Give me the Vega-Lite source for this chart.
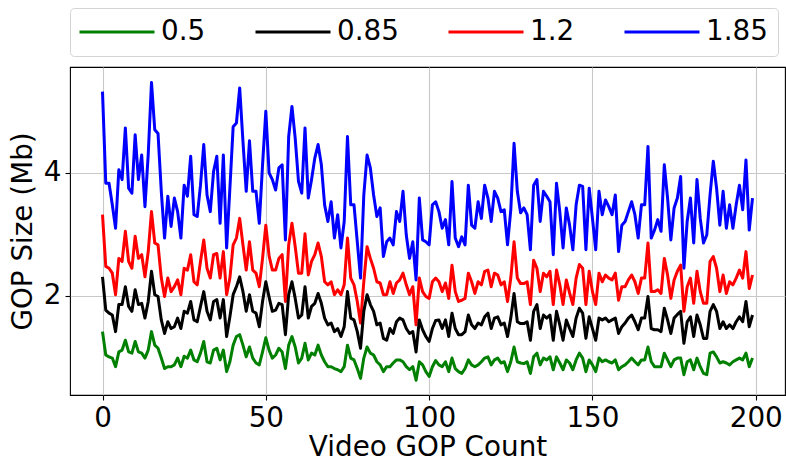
{
"$schema":"https://vega.github.io/schema/vega-lite/v6.json",
"width":715,"height":328,
"autosize":{"type":"none"},
"padding":{"left":70,"top":67,"right":1,"bottom":71},
"config":{"font":"DejaVu Sans","view":{"stroke":"black","strokeWidth":1.1}},
"data":{"values":[
{"s":"1.85","x":0,"y":5.32},{"s":"1.85","x":1,"y":3.83},{"s":"1.85","x":2,"y":3.83},{"s":"1.85","x":3,"y":3.48},{"s":"1.85","x":4,"y":3.10},{"s":"1.85","x":5,"y":4.05},{"s":"1.85","x":6,"y":3.89},{"s":"1.85","x":7,"y":4.73},{"s":"1.85","x":8,"y":3.75},{"s":"1.85","x":9,"y":3.67},
{"s":"1.85","x":10,"y":4.62},{"s":"1.85","x":11,"y":3.89},{"s":"1.85","x":12,"y":4.29},{"s":"1.85","x":13,"y":3.45},{"s":"1.85","x":14,"y":4.30},{"s":"1.85","x":15,"y":5.47},{"s":"1.85","x":16,"y":4.70},{"s":"1.85","x":17,"y":4.64},{"s":"1.85","x":18,"y":3.70},{"s":"1.85","x":19,"y":2.94},
{"s":"1.85","x":20,"y":3.62},{"s":"1.85","x":21,"y":3.13},{"s":"1.85","x":22,"y":3.59},{"s":"1.85","x":23,"y":3.37},{"s":"1.85","x":24,"y":2.94},{"s":"1.85","x":25,"y":3.80},{"s":"1.85","x":26,"y":3.62},{"s":"1.85","x":27,"y":4.27},{"s":"1.85","x":28,"y":3.32},{"s":"1.85","x":29,"y":3.29},
{"s":"1.85","x":30,"y":3.80},{"s":"1.85","x":31,"y":4.46},{"s":"1.85","x":32,"y":3.64},{"s":"1.85","x":33,"y":3.37},{"s":"1.85","x":34,"y":4.02},{"s":"1.85","x":35,"y":4.27},{"s":"1.85","x":36,"y":3.18},{"s":"1.85","x":37,"y":4.29},{"s":"1.85","x":38,"y":2.78},{"s":"1.85","x":39,"y":3.75},
{"s":"1.85","x":40,"y":4.75},{"s":"1.85","x":41,"y":4.81},{"s":"1.85","x":42,"y":5.38},{"s":"1.85","x":43,"y":4.51},{"s":"1.85","x":44,"y":3.70},{"s":"1.85","x":45,"y":4.52},{"s":"1.85","x":46,"y":3.70},{"s":"1.85","x":47,"y":3.70},{"s":"1.85","x":48,"y":3.18},{"s":"1.85","x":49,"y":4.13},
{"s":"1.85","x":50,"y":5.00},{"s":"1.85","x":51,"y":4.00},{"s":"1.85","x":52,"y":3.89},{"s":"1.85","x":53,"y":3.72},{"s":"1.85","x":54,"y":4.08},{"s":"1.85","x":55,"y":4.13},{"s":"1.85","x":56,"y":2.91},{"s":"1.85","x":57,"y":4.59},{"s":"1.85","x":58,"y":5.08},{"s":"1.85","x":59,"y":4.56},
{"s":"1.85","x":60,"y":3.86},{"s":"1.85","x":61,"y":3.67},{"s":"1.85","x":62,"y":4.73},{"s":"1.85","x":63,"y":3.59},{"s":"1.85","x":64,"y":3.89},{"s":"1.85","x":65,"y":4.24},{"s":"1.85","x":66,"y":4.46},{"s":"1.85","x":67,"y":4.13},{"s":"1.85","x":68,"y":3.48},{"s":"1.85","x":69,"y":3.21},
{"s":"1.85","x":70,"y":3.53},{"s":"1.85","x":71,"y":2.94},{"s":"1.85","x":72,"y":3.32},{"s":"1.85","x":73,"y":2.78},{"s":"1.85","x":74,"y":3.21},{"s":"1.85","x":75,"y":4.59},{"s":"1.85","x":76,"y":3.48},{"s":"1.85","x":77,"y":3.48},{"s":"1.85","x":78,"y":2.88},{"s":"1.85","x":79,"y":2.29},
{"s":"1.85","x":80,"y":3.64},{"s":"1.85","x":81,"y":4.29},{"s":"1.85","x":82,"y":4.08},{"s":"1.85","x":83,"y":3.64},{"s":"1.85","x":84,"y":3.29},{"s":"1.85","x":85,"y":3.43},{"s":"1.85","x":86,"y":2.64},{"s":"1.85","x":87,"y":2.88},{"s":"1.85","x":88,"y":2.94},{"s":"1.85","x":89,"y":2.83},
{"s":"1.85","x":90,"y":3.37},{"s":"1.85","x":91,"y":3.21},{"s":"1.85","x":92,"y":3.70},{"s":"1.85","x":93,"y":2.99},{"s":"1.85","x":94,"y":2.61},{"s":"1.85","x":95,"y":2.88},{"s":"1.85","x":96,"y":2.26},{"s":"1.85","x":97,"y":3.59},{"s":"1.85","x":98,"y":2.91},{"s":"1.85","x":99,"y":2.88},
{"s":"1.85","x":100,"y":2.83},{"s":"1.85","x":101,"y":3.48},{"s":"1.85","x":102,"y":3.53},{"s":"1.85","x":103,"y":3.37},{"s":"1.85","x":104,"y":3.10},{"s":"1.85","x":105,"y":3.24},{"s":"1.85","x":106,"y":2.83},{"s":"1.85","x":107,"y":3.86},{"s":"1.85","x":108,"y":2.94},{"s":"1.85","x":109,"y":2.80},
{"s":"1.85","x":110,"y":2.96},{"s":"1.85","x":111,"y":2.83},{"s":"1.85","x":112,"y":3.80},{"s":"1.85","x":113,"y":3.15},{"s":"1.85","x":114,"y":3.10},{"s":"1.85","x":115,"y":3.53},{"s":"1.85","x":116,"y":3.26},{"s":"1.85","x":117,"y":3.80},{"s":"1.85","x":118,"y":3.59},{"s":"1.85","x":119,"y":3.21},
{"s":"1.85","x":120,"y":3.70},{"s":"1.85","x":121,"y":3.59},{"s":"1.85","x":122,"y":3.37},{"s":"1.85","x":123,"y":3.40},{"s":"1.85","x":124,"y":2.83},{"s":"1.85","x":125,"y":3.40},{"s":"1.85","x":126,"y":4.48},{"s":"1.85","x":127,"y":3.70},{"s":"1.85","x":128,"y":3.35},{"s":"1.85","x":129,"y":3.43},
{"s":"1.85","x":130,"y":3.32},{"s":"1.85","x":131,"y":2.75},{"s":"1.85","x":132,"y":3.80},{"s":"1.85","x":133,"y":3.89},{"s":"1.85","x":134,"y":3.21},{"s":"1.85","x":135,"y":3.70},{"s":"1.85","x":136,"y":3.62},{"s":"1.85","x":137,"y":3.53},{"s":"1.85","x":138,"y":2.67},{"s":"1.85","x":139,"y":3.83},
{"s":"1.85","x":140,"y":3.37},{"s":"1.85","x":141,"y":2.78},{"s":"1.85","x":142,"y":3.43},{"s":"1.85","x":143,"y":3.15},{"s":"1.85","x":144,"y":2.75},{"s":"1.85","x":145,"y":3.48},{"s":"1.85","x":146,"y":3.80},{"s":"1.85","x":147,"y":3.78},{"s":"1.85","x":148,"y":2.75},{"s":"1.85","x":149,"y":3.75},
{"s":"1.85","x":150,"y":3.26},{"s":"1.85","x":151,"y":2.75},{"s":"1.85","x":152,"y":3.70},{"s":"1.85","x":153,"y":3.32},{"s":"1.85","x":154,"y":3.56},{"s":"1.85","x":155,"y":3.45},{"s":"1.85","x":156,"y":3.32},{"s":"1.85","x":157,"y":3.64},{"s":"1.85","x":158,"y":2.72},{"s":"1.85","x":159,"y":3.15},
{"s":"1.85","x":160,"y":3.21},{"s":"1.85","x":161,"y":3.37},{"s":"1.85","x":162,"y":3.53},{"s":"1.85","x":163,"y":3.32},{"s":"1.85","x":164,"y":2.94},{"s":"1.85","x":165,"y":3.48},{"s":"1.85","x":166,"y":3.48},{"s":"1.85","x":167,"y":4.43},{"s":"1.85","x":168,"y":2.94},{"s":"1.85","x":169,"y":3.07},
{"s":"1.85","x":170,"y":3.24},{"s":"1.85","x":171,"y":3.05},{"s":"1.85","x":172,"y":4.13},{"s":"1.85","x":173,"y":3.59},{"s":"1.85","x":174,"y":2.91},{"s":"1.85","x":175,"y":3.43},{"s":"1.85","x":176,"y":3.59},{"s":"1.85","x":177,"y":3.94},{"s":"1.85","x":178,"y":2.45},{"s":"1.85","x":179,"y":3.21},
{"s":"1.85","x":180,"y":3.59},{"s":"1.85","x":181,"y":2.86},{"s":"1.85","x":182,"y":3.89},{"s":"1.85","x":183,"y":3.26},{"s":"1.85","x":184,"y":2.86},{"s":"1.85","x":185,"y":2.99},{"s":"1.85","x":186,"y":3.64},{"s":"1.85","x":187,"y":4.19},{"s":"1.85","x":188,"y":3.75},{"s":"1.85","x":189,"y":3.15},
{"s":"1.85","x":190,"y":3.70},{"s":"1.85","x":191,"y":3.10},{"s":"1.85","x":192,"y":3.48},{"s":"1.85","x":193,"y":3.10},{"s":"1.85","x":194,"y":3.48},{"s":"1.85","x":195,"y":3.80},{"s":"1.85","x":196,"y":3.40},{"s":"1.85","x":197,"y":4.21},{"s":"1.85","x":198,"y":3.07},{"s":"1.85","x":199,"y":3.59},
{"s":"1.2","x":0,"y":3.32},{"s":"1.2","x":1,"y":2.48},{"s":"1.2","x":2,"y":2.45},{"s":"1.2","x":3,"y":2.37},{"s":"1.2","x":4,"y":2.02},{"s":"1.2","x":5,"y":2.61},{"s":"1.2","x":6,"y":2.56},{"s":"1.2","x":7,"y":3.05},{"s":"1.2","x":8,"y":2.56},{"s":"1.2","x":9,"y":2.45},
{"s":"1.2","x":10,"y":2.97},{"s":"1.2","x":11,"y":2.61},{"s":"1.2","x":12,"y":2.67},{"s":"1.2","x":13,"y":2.31},{"s":"1.2","x":14,"y":2.72},{"s":"1.2","x":15,"y":3.37},{"s":"1.2","x":16,"y":2.86},{"s":"1.2","x":17,"y":2.83},{"s":"1.2","x":18,"y":2.29},{"s":"1.2","x":19,"y":1.99},
{"s":"1.2","x":20,"y":2.29},{"s":"1.2","x":21,"y":2.07},{"s":"1.2","x":22,"y":2.15},{"s":"1.2","x":23,"y":2.26},{"s":"1.2","x":24,"y":2.02},{"s":"1.2","x":25,"y":2.45},{"s":"1.2","x":26,"y":2.42},{"s":"1.2","x":27,"y":2.67},{"s":"1.2","x":28,"y":2.23},{"s":"1.2","x":29,"y":2.18},
{"s":"1.2","x":30,"y":2.56},{"s":"1.2","x":31,"y":2.91},{"s":"1.2","x":32,"y":2.45},{"s":"1.2","x":33,"y":2.29},{"s":"1.2","x":34,"y":2.67},{"s":"1.2","x":35,"y":2.69},{"s":"1.2","x":36,"y":2.29},{"s":"1.2","x":37,"y":2.72},{"s":"1.2","x":38,"y":2.02},{"s":"1.2","x":39,"y":2.29},
{"s":"1.2","x":40,"y":2.83},{"s":"1.2","x":41,"y":2.94},{"s":"1.2","x":42,"y":3.26},{"s":"1.2","x":43,"y":2.83},{"s":"1.2","x":44,"y":2.42},{"s":"1.2","x":45,"y":2.88},{"s":"1.2","x":46,"y":2.42},{"s":"1.2","x":47,"y":2.37},{"s":"1.2","x":48,"y":2.15},{"s":"1.2","x":49,"y":2.61},
{"s":"1.2","x":50,"y":3.15},{"s":"1.2","x":51,"y":2.65},{"s":"1.2","x":52,"y":2.42},{"s":"1.2","x":53,"y":2.42},{"s":"1.2","x":54,"y":2.61},{"s":"1.2","x":55,"y":2.67},{"s":"1.2","x":56,"y":1.91},{"s":"1.2","x":57,"y":2.83},{"s":"1.2","x":58,"y":3.18},{"s":"1.2","x":59,"y":2.80},
{"s":"1.2","x":60,"y":2.37},{"s":"1.2","x":61,"y":2.37},{"s":"1.2","x":62,"y":3.01},{"s":"1.2","x":63,"y":2.34},{"s":"1.2","x":64,"y":2.56},{"s":"1.2","x":65,"y":2.67},{"s":"1.2","x":66,"y":2.86},{"s":"1.2","x":67,"y":2.64},{"s":"1.2","x":68,"y":2.23},{"s":"1.2","x":69,"y":2.18},
{"s":"1.2","x":70,"y":2.23},{"s":"1.2","x":71,"y":2.02},{"s":"1.2","x":72,"y":2.10},{"s":"1.2","x":73,"y":2.02},{"s":"1.2","x":74,"y":2.18},{"s":"1.2","x":75,"y":2.94},{"s":"1.2","x":76,"y":2.29},{"s":"1.2","x":77,"y":2.18},{"s":"1.2","x":78,"y":1.91},{"s":"1.2","x":79,"y":1.56},
{"s":"1.2","x":80,"y":2.23},{"s":"1.2","x":81,"y":2.80},{"s":"1.2","x":82,"y":2.61},{"s":"1.2","x":83,"y":2.45},{"s":"1.2","x":84,"y":2.23},{"s":"1.2","x":85,"y":2.21},{"s":"1.2","x":86,"y":2.02},{"s":"1.2","x":87,"y":2.02},{"s":"1.2","x":88,"y":2.23},{"s":"1.2","x":89,"y":2.04},
{"s":"1.2","x":90,"y":2.21},{"s":"1.2","x":91,"y":2.26},{"s":"1.2","x":92,"y":2.37},{"s":"1.2","x":93,"y":2.18},{"s":"1.2","x":94,"y":2.02},{"s":"1.2","x":95,"y":2.15},{"s":"1.2","x":96,"y":1.53},{"s":"1.2","x":97,"y":2.29},{"s":"1.2","x":98,"y":2.07},{"s":"1.2","x":99,"y":1.99},
{"s":"1.2","x":100,"y":1.96},{"s":"1.2","x":101,"y":2.23},{"s":"1.2","x":102,"y":2.29},{"s":"1.2","x":103,"y":2.23},{"s":"1.2","x":104,"y":2.07},{"s":"1.2","x":105,"y":2.21},{"s":"1.2","x":106,"y":1.96},{"s":"1.2","x":107,"y":2.50},{"s":"1.2","x":108,"y":2.07},{"s":"1.2","x":109,"y":1.91},
{"s":"1.2","x":110,"y":1.93},{"s":"1.2","x":111,"y":1.96},{"s":"1.2","x":112,"y":2.37},{"s":"1.2","x":113,"y":2.23},{"s":"1.2","x":114,"y":2.04},{"s":"1.2","x":115,"y":2.23},{"s":"1.2","x":116,"y":2.18},{"s":"1.2","x":117,"y":2.40},{"s":"1.2","x":118,"y":2.42},{"s":"1.2","x":119,"y":2.15},
{"s":"1.2","x":120,"y":2.37},{"s":"1.2","x":121,"y":2.34},{"s":"1.2","x":122,"y":2.18},{"s":"1.2","x":123,"y":2.23},{"s":"1.2","x":124,"y":1.91},{"s":"1.2","x":125,"y":2.29},{"s":"1.2","x":126,"y":2.88},{"s":"1.2","x":127,"y":2.29},{"s":"1.2","x":128,"y":2.20},{"s":"1.2","x":129,"y":2.20},
{"s":"1.2","x":130,"y":2.23},{"s":"1.2","x":131,"y":1.86},{"s":"1.2","x":132,"y":2.58},{"s":"1.2","x":133,"y":2.45},{"s":"1.2","x":134,"y":2.07},{"s":"1.2","x":135,"y":2.37},{"s":"1.2","x":136,"y":2.31},{"s":"1.2","x":137,"y":2.40},{"s":"1.2","x":138,"y":1.86},{"s":"1.2","x":139,"y":2.42},
{"s":"1.2","x":140,"y":2.18},{"s":"1.2","x":141,"y":1.86},{"s":"1.2","x":142,"y":2.26},{"s":"1.2","x":143,"y":2.05},{"s":"1.2","x":144,"y":1.86},{"s":"1.2","x":145,"y":2.29},{"s":"1.2","x":146,"y":2.51},{"s":"1.2","x":147,"y":2.45},{"s":"1.2","x":148,"y":1.86},{"s":"1.2","x":149,"y":2.40},
{"s":"1.2","x":150,"y":2.07},{"s":"1.2","x":151,"y":1.86},{"s":"1.2","x":152,"y":2.37},{"s":"1.2","x":153,"y":2.23},{"s":"1.2","x":154,"y":2.34},{"s":"1.2","x":155,"y":2.29},{"s":"1.2","x":156,"y":2.26},{"s":"1.2","x":157,"y":2.37},{"s":"1.2","x":158,"y":1.93},{"s":"1.2","x":159,"y":2.15},
{"s":"1.2","x":160,"y":2.15},{"s":"1.2","x":161,"y":2.26},{"s":"1.2","x":162,"y":2.34},{"s":"1.2","x":163,"y":2.23},{"s":"1.2","x":164,"y":2.04},{"s":"1.2","x":165,"y":2.29},{"s":"1.2","x":166,"y":2.29},{"s":"1.2","x":167,"y":2.86},{"s":"1.2","x":168,"y":2.07},{"s":"1.2","x":169,"y":2.07},
{"s":"1.2","x":170,"y":2.10},{"s":"1.2","x":171,"y":2.04},{"s":"1.2","x":172,"y":2.61},{"s":"1.2","x":173,"y":2.34},{"s":"1.2","x":174,"y":1.96},{"s":"1.2","x":175,"y":2.26},{"s":"1.2","x":176,"y":2.40},{"s":"1.2","x":177,"y":2.50},{"s":"1.2","x":178,"y":1.75},{"s":"1.2","x":179,"y":2.15},
{"s":"1.2","x":180,"y":2.29},{"s":"1.2","x":181,"y":1.88},{"s":"1.2","x":182,"y":2.40},{"s":"1.2","x":183,"y":2.07},{"s":"1.2","x":184,"y":1.88},{"s":"1.2","x":185,"y":1.88},{"s":"1.2","x":186,"y":2.56},{"s":"1.2","x":187,"y":2.64},{"s":"1.2","x":188,"y":2.45},{"s":"1.2","x":189,"y":2.07},
{"s":"1.2","x":190,"y":2.34},{"s":"1.2","x":191,"y":2.04},{"s":"1.2","x":192,"y":2.23},{"s":"1.2","x":193,"y":2.18},{"s":"1.2","x":194,"y":2.29},{"s":"1.2","x":195,"y":2.42},{"s":"1.2","x":196,"y":2.29},{"s":"1.2","x":197,"y":2.72},{"s":"1.2","x":198,"y":2.12},{"s":"1.2","x":199,"y":2.34},
{"s":"0.85","x":0,"y":2.31},{"s":"0.85","x":1,"y":1.77},{"s":"0.85","x":2,"y":1.72},{"s":"0.85","x":3,"y":1.69},{"s":"0.85","x":4,"y":1.42},{"s":"0.85","x":5,"y":1.86},{"s":"0.85","x":6,"y":1.86},{"s":"0.85","x":7,"y":2.15},{"s":"0.85","x":8,"y":1.83},{"s":"0.85","x":9,"y":1.75},
{"s":"0.85","x":10,"y":2.10},{"s":"0.85","x":11,"y":1.86},{"s":"0.85","x":12,"y":1.88},{"s":"0.85","x":13,"y":1.64},{"s":"0.85","x":14,"y":1.91},{"s":"0.85","x":15,"y":2.40},{"s":"0.85","x":16,"y":2.02},{"s":"0.85","x":17,"y":1.99},{"s":"0.85","x":18,"y":1.61},{"s":"0.85","x":19,"y":1.39},
{"s":"0.85","x":20,"y":1.58},{"s":"0.85","x":21,"y":1.47},{"s":"0.85","x":22,"y":1.50},{"s":"0.85","x":23,"y":1.64},{"s":"0.85","x":24,"y":1.47},{"s":"0.85","x":25,"y":1.75},{"s":"0.85","x":26,"y":1.72},{"s":"0.85","x":27,"y":1.91},{"s":"0.85","x":28,"y":1.61},{"s":"0.85","x":29,"y":1.58},
{"s":"0.85","x":30,"y":1.83},{"s":"0.85","x":31,"y":2.07},{"s":"0.85","x":32,"y":1.75},{"s":"0.85","x":33,"y":1.61},{"s":"0.85","x":34,"y":1.91},{"s":"0.85","x":35,"y":1.94},{"s":"0.85","x":36,"y":1.64},{"s":"0.85","x":37,"y":1.94},{"s":"0.85","x":38,"y":1.34},{"s":"0.85","x":39,"y":1.66},
{"s":"0.85","x":40,"y":2.02},{"s":"0.85","x":41,"y":2.15},{"s":"0.85","x":42,"y":2.31},{"s":"0.85","x":43,"y":2.07},{"s":"0.85","x":44,"y":1.75},{"s":"0.85","x":45,"y":2.02},{"s":"0.85","x":46,"y":1.75},{"s":"0.85","x":47,"y":1.72},{"s":"0.85","x":48,"y":1.50},{"s":"0.85","x":49,"y":1.91},
{"s":"0.85","x":50,"y":2.23},{"s":"0.85","x":51,"y":1.98},{"s":"0.85","x":52,"y":1.75},{"s":"0.85","x":53,"y":1.77},{"s":"0.85","x":54,"y":1.88},{"s":"0.85","x":55,"y":1.86},{"s":"0.85","x":56,"y":1.37},{"s":"0.85","x":57,"y":2.02},{"s":"0.85","x":58,"y":2.23},{"s":"0.85","x":59,"y":1.96},
{"s":"0.85","x":60,"y":1.64},{"s":"0.85","x":61,"y":1.69},{"s":"0.85","x":62,"y":2.15},{"s":"0.85","x":63,"y":1.64},{"s":"0.85","x":64,"y":1.83},{"s":"0.85","x":65,"y":1.88},{"s":"0.85","x":66,"y":2.04},{"s":"0.85","x":67,"y":1.88},{"s":"0.85","x":68,"y":1.64},{"s":"0.85","x":69,"y":1.53},
{"s":"0.85","x":70,"y":1.56},{"s":"0.85","x":71,"y":1.42},{"s":"0.85","x":72,"y":1.47},{"s":"0.85","x":73,"y":1.34},{"s":"0.85","x":74,"y":1.50},{"s":"0.85","x":75,"y":2.07},{"s":"0.85","x":76,"y":1.64},{"s":"0.85","x":77,"y":1.61},{"s":"0.85","x":78,"y":1.42},{"s":"0.85","x":79,"y":1.15},
{"s":"0.85","x":80,"y":1.75},{"s":"0.85","x":81,"y":2.02},{"s":"0.85","x":82,"y":1.86},{"s":"0.85","x":83,"y":1.75},{"s":"0.85","x":84,"y":1.53},{"s":"0.85","x":85,"y":1.56},{"s":"0.85","x":86,"y":1.31},{"s":"0.85","x":87,"y":1.28},{"s":"0.85","x":88,"y":1.47},{"s":"0.85","x":89,"y":1.39},
{"s":"0.85","x":90,"y":1.58},{"s":"0.85","x":91,"y":1.64},{"s":"0.85","x":92,"y":1.61},{"s":"0.85","x":93,"y":1.47},{"s":"0.85","x":94,"y":1.39},{"s":"0.85","x":95,"y":1.42},{"s":"0.85","x":96,"y":1.09},{"s":"0.85","x":97,"y":1.61},{"s":"0.85","x":98,"y":1.45},{"s":"0.85","x":99,"y":1.34},
{"s":"0.85","x":100,"y":1.26},{"s":"0.85","x":101,"y":1.47},{"s":"0.85","x":102,"y":1.60},{"s":"0.85","x":103,"y":1.61},{"s":"0.85","x":104,"y":1.47},{"s":"0.85","x":105,"y":1.61},{"s":"0.85","x":106,"y":1.34},{"s":"0.85","x":107,"y":1.72},{"s":"0.85","x":108,"y":1.47},{"s":"0.85","x":109,"y":1.37},
{"s":"0.85","x":110,"y":1.37},{"s":"0.85","x":111,"y":1.42},{"s":"0.85","x":112,"y":1.69},{"s":"0.85","x":113,"y":1.53},{"s":"0.85","x":114,"y":1.47},{"s":"0.85","x":115,"y":1.56},{"s":"0.85","x":116,"y":1.53},{"s":"0.85","x":117,"y":1.66},{"s":"0.85","x":118,"y":1.72},{"s":"0.85","x":119,"y":1.47},
{"s":"0.85","x":120,"y":1.64},{"s":"0.85","x":121,"y":1.66},{"s":"0.85","x":122,"y":1.53},{"s":"0.85","x":123,"y":1.56},{"s":"0.85","x":124,"y":1.34},{"s":"0.85","x":125,"y":1.64},{"s":"0.85","x":126,"y":2.04},{"s":"0.85","x":127,"y":1.58},{"s":"0.85","x":128,"y":1.55},{"s":"0.85","x":129,"y":1.55},
{"s":"0.85","x":130,"y":1.58},{"s":"0.85","x":131,"y":1.28},{"s":"0.85","x":132,"y":1.75},{"s":"0.85","x":133,"y":1.86},{"s":"0.85","x":134,"y":1.47},{"s":"0.85","x":135,"y":1.69},{"s":"0.85","x":136,"y":1.64},{"s":"0.85","x":137,"y":1.69},{"s":"0.85","x":138,"y":1.28},{"s":"0.85","x":139,"y":1.75},
{"s":"0.85","x":140,"y":1.53},{"s":"0.85","x":141,"y":1.28},{"s":"0.85","x":142,"y":1.61},{"s":"0.85","x":143,"y":1.47},{"s":"0.85","x":144,"y":1.34},{"s":"0.85","x":145,"y":1.64},{"s":"0.85","x":146,"y":1.80},{"s":"0.85","x":147,"y":1.72},{"s":"0.85","x":148,"y":1.31},{"s":"0.85","x":149,"y":1.66},
{"s":"0.85","x":150,"y":1.47},{"s":"0.85","x":151,"y":1.28},{"s":"0.85","x":152,"y":1.64},{"s":"0.85","x":153,"y":1.61},{"s":"0.85","x":154,"y":1.64},{"s":"0.85","x":155,"y":1.58},{"s":"0.85","x":156,"y":1.61},{"s":"0.85","x":157,"y":1.64},{"s":"0.85","x":158,"y":1.39},{"s":"0.85","x":159,"y":1.50},
{"s":"0.85","x":160,"y":1.56},{"s":"0.85","x":161,"y":1.64},{"s":"0.85","x":162,"y":1.69},{"s":"0.85","x":163,"y":1.58},{"s":"0.85","x":164,"y":1.45},{"s":"0.85","x":165,"y":1.64},{"s":"0.85","x":166,"y":1.64},{"s":"0.85","x":167,"y":1.99},{"s":"0.85","x":168,"y":1.47},{"s":"0.85","x":169,"y":1.45},
{"s":"0.85","x":170,"y":1.45},{"s":"0.85","x":171,"y":1.42},{"s":"0.85","x":172,"y":1.80},{"s":"0.85","x":173,"y":1.61},{"s":"0.85","x":174,"y":1.39},{"s":"0.85","x":175,"y":1.64},{"s":"0.85","x":176,"y":1.70},{"s":"0.85","x":177,"y":1.75},{"s":"0.85","x":178,"y":1.23},{"s":"0.85","x":179,"y":1.58},
{"s":"0.85","x":180,"y":1.66},{"s":"0.85","x":181,"y":1.34},{"s":"0.85","x":182,"y":1.69},{"s":"0.85","x":183,"y":1.53},{"s":"0.85","x":184,"y":1.31},{"s":"0.85","x":185,"y":1.31},{"s":"0.85","x":186,"y":1.75},{"s":"0.85","x":187,"y":1.86},{"s":"0.85","x":188,"y":1.75},{"s":"0.85","x":189,"y":1.47},
{"s":"0.85","x":190,"y":1.58},{"s":"0.85","x":191,"y":1.47},{"s":"0.85","x":192,"y":1.53},{"s":"0.85","x":193,"y":1.47},{"s":"0.85","x":194,"y":1.58},{"s":"0.85","x":195,"y":1.66},{"s":"0.85","x":196,"y":1.58},{"s":"0.85","x":197,"y":1.91},{"s":"0.85","x":198,"y":1.50},{"s":"0.85","x":199,"y":1.69},
{"s":"0.5","x":0,"y":1.42},{"s":"0.5","x":1,"y":1.04},{"s":"0.5","x":2,"y":1.01},{"s":"0.5","x":3,"y":0.99},{"s":"0.5","x":4,"y":0.85},{"s":"0.5","x":5,"y":1.09},{"s":"0.5","x":6,"y":1.12},{"s":"0.5","x":7,"y":1.28},{"s":"0.5","x":8,"y":1.09},{"s":"0.5","x":9,"y":1.07},
{"s":"0.5","x":10,"y":1.26},{"s":"0.5","x":11,"y":1.09},{"s":"0.5","x":12,"y":1.07},{"s":"0.5","x":13,"y":0.99},{"s":"0.5","x":14,"y":1.12},{"s":"0.5","x":15,"y":1.42},{"s":"0.5","x":16,"y":1.20},{"s":"0.5","x":17,"y":1.15},{"s":"0.5","x":18,"y":0.99},{"s":"0.5","x":19,"y":0.82},
{"s":"0.5","x":20,"y":0.85},{"s":"0.5","x":21,"y":0.85},{"s":"0.5","x":22,"y":0.88},{"s":"0.5","x":23,"y":0.99},{"s":"0.5","x":24,"y":0.85},{"s":"0.5","x":25,"y":1.02},{"s":"0.5","x":26,"y":0.99},{"s":"0.5","x":27,"y":1.12},{"s":"0.5","x":28,"y":0.96},{"s":"0.5","x":29,"y":0.93},
{"s":"0.5","x":30,"y":1.07},{"s":"0.5","x":31,"y":1.26},{"s":"0.5","x":32,"y":0.93},{"s":"0.5","x":33,"y":0.91},{"s":"0.5","x":34,"y":1.12},{"s":"0.5","x":35,"y":1.15},{"s":"0.5","x":36,"y":0.96},{"s":"0.5","x":37,"y":1.12},{"s":"0.5","x":38,"y":0.77},{"s":"0.5","x":39,"y":0.93},
{"s":"0.5","x":40,"y":1.20},{"s":"0.5","x":41,"y":1.34},{"s":"0.5","x":42,"y":1.37},{"s":"0.5","x":43,"y":1.20},{"s":"0.5","x":44,"y":1.01},{"s":"0.5","x":45,"y":1.17},{"s":"0.5","x":46,"y":0.99},{"s":"0.5","x":47,"y":0.91},{"s":"0.5","x":48,"y":0.88},{"s":"0.5","x":49,"y":1.09},
{"s":"0.5","x":50,"y":1.32},{"s":"0.5","x":51,"y":1.12},{"s":"0.5","x":52,"y":0.99},{"s":"0.5","x":53,"y":1.04},{"s":"0.5","x":54,"y":1.15},{"s":"0.5","x":55,"y":1.09},{"s":"0.5","x":56,"y":0.82},{"s":"0.5","x":57,"y":1.20},{"s":"0.5","x":58,"y":1.34},{"s":"0.5","x":59,"y":1.17},
{"s":"0.5","x":60,"y":0.91},{"s":"0.5","x":61,"y":0.99},{"s":"0.5","x":62,"y":1.23},{"s":"0.5","x":63,"y":0.96},{"s":"0.5","x":64,"y":1.07},{"s":"0.5","x":65,"y":1.04},{"s":"0.5","x":66,"y":1.20},{"s":"0.5","x":67,"y":1.04},{"s":"0.5","x":68,"y":0.93},{"s":"0.5","x":69,"y":0.85},
{"s":"0.5","x":70,"y":0.85},{"s":"0.5","x":71,"y":0.82},{"s":"0.5","x":72,"y":0.80},{"s":"0.5","x":73,"y":0.77},{"s":"0.5","x":74,"y":0.85},{"s":"0.5","x":75,"y":1.20},{"s":"0.5","x":76,"y":0.99},{"s":"0.5","x":77,"y":0.96},{"s":"0.5","x":78,"y":0.82},{"s":"0.5","x":79,"y":0.66},
{"s":"0.5","x":80,"y":0.99},{"s":"0.5","x":81,"y":1.17},{"s":"0.5","x":82,"y":1.07},{"s":"0.5","x":83,"y":1.04},{"s":"0.5","x":84,"y":0.93},{"s":"0.5","x":85,"y":0.88},{"s":"0.5","x":86,"y":0.77},{"s":"0.5","x":87,"y":0.85},{"s":"0.5","x":88,"y":0.85},{"s":"0.5","x":89,"y":0.91},
{"s":"0.5","x":90,"y":0.96},{"s":"0.5","x":91,"y":0.96},{"s":"0.5","x":92,"y":0.93},{"s":"0.5","x":93,"y":0.85},{"s":"0.5","x":94,"y":0.80},{"s":"0.5","x":95,"y":0.85},{"s":"0.5","x":96,"y":0.63},{"s":"0.5","x":97,"y":0.93},{"s":"0.5","x":98,"y":0.88},{"s":"0.5","x":99,"y":0.77},
{"s":"0.5","x":100,"y":0.69},{"s":"0.5","x":101,"y":0.85},{"s":"0.5","x":102,"y":0.95},{"s":"0.5","x":103,"y":0.88},{"s":"0.5","x":104,"y":0.85},{"s":"0.5","x":105,"y":0.93},{"s":"0.5","x":106,"y":0.77},{"s":"0.5","x":107,"y":0.99},{"s":"0.5","x":108,"y":0.82},{"s":"0.5","x":109,"y":0.77},
{"s":"0.5","x":110,"y":0.74},{"s":"0.5","x":111,"y":0.82},{"s":"0.5","x":112,"y":0.96},{"s":"0.5","x":113,"y":0.88},{"s":"0.5","x":114,"y":0.85},{"s":"0.5","x":115,"y":0.88},{"s":"0.5","x":116,"y":0.93},{"s":"0.5","x":117,"y":0.99},{"s":"0.5","x":118,"y":1.01},{"s":"0.5","x":119,"y":0.88},
{"s":"0.5","x":120,"y":0.96},{"s":"0.5","x":121,"y":0.99},{"s":"0.5","x":122,"y":0.91},{"s":"0.5","x":123,"y":0.93},{"s":"0.5","x":124,"y":0.77},{"s":"0.5","x":125,"y":0.93},{"s":"0.5","x":126,"y":1.17},{"s":"0.5","x":127,"y":0.93},{"s":"0.5","x":128,"y":0.91},{"s":"0.5","x":129,"y":0.90},
{"s":"0.5","x":130,"y":0.93},{"s":"0.5","x":131,"y":0.74},{"s":"0.5","x":132,"y":1.01},{"s":"0.5","x":133,"y":1.07},{"s":"0.5","x":134,"y":0.88},{"s":"0.5","x":135,"y":0.99},{"s":"0.5","x":136,"y":0.96},{"s":"0.5","x":137,"y":1.01},{"s":"0.5","x":138,"y":0.80},{"s":"0.5","x":139,"y":1.01},
{"s":"0.5","x":140,"y":0.91},{"s":"0.5","x":141,"y":0.80},{"s":"0.5","x":142,"y":0.96},{"s":"0.5","x":143,"y":0.91},{"s":"0.5","x":144,"y":0.80},{"s":"0.5","x":145,"y":0.96},{"s":"0.5","x":146,"y":1.07},{"s":"0.5","x":147,"y":0.99},{"s":"0.5","x":148,"y":0.77},{"s":"0.5","x":149,"y":0.96},
{"s":"0.5","x":150,"y":0.88},{"s":"0.5","x":151,"y":0.77},{"s":"0.5","x":152,"y":0.99},{"s":"0.5","x":153,"y":0.93},{"s":"0.5","x":154,"y":0.96},{"s":"0.5","x":155,"y":0.93},{"s":"0.5","x":156,"y":0.91},{"s":"0.5","x":157,"y":0.96},{"s":"0.5","x":158,"y":0.80},{"s":"0.5","x":159,"y":0.85},
{"s":"0.5","x":160,"y":0.88},{"s":"0.5","x":161,"y":0.93},{"s":"0.5","x":162,"y":0.99},{"s":"0.5","x":163,"y":0.93},{"s":"0.5","x":164,"y":0.88},{"s":"0.5","x":165,"y":0.96},{"s":"0.5","x":166,"y":0.96},{"s":"0.5","x":167,"y":1.17},{"s":"0.5","x":168,"y":0.93},{"s":"0.5","x":169,"y":0.85},
{"s":"0.5","x":170,"y":0.85},{"s":"0.5","x":171,"y":0.85},{"s":"0.5","x":172,"y":1.07},{"s":"0.5","x":173,"y":0.96},{"s":"0.5","x":174,"y":0.85},{"s":"0.5","x":175,"y":0.96},{"s":"0.5","x":176,"y":0.99},{"s":"0.5","x":177,"y":0.99},{"s":"0.5","x":178,"y":0.72},{"s":"0.5","x":179,"y":0.93},
{"s":"0.5","x":180,"y":0.96},{"s":"0.5","x":181,"y":0.80},{"s":"0.5","x":182,"y":0.99},{"s":"0.5","x":183,"y":0.85},{"s":"0.5","x":184,"y":0.74},{"s":"0.5","x":185,"y":0.72},{"s":"0.5","x":186,"y":1.07},{"s":"0.5","x":187,"y":1.09},{"s":"0.5","x":188,"y":1.01},{"s":"0.5","x":189,"y":0.91},
{"s":"0.5","x":190,"y":0.93},{"s":"0.5","x":191,"y":0.91},{"s":"0.5","x":192,"y":0.88},{"s":"0.5","x":193,"y":0.93},{"s":"0.5","x":194,"y":0.96},{"s":"0.5","x":195,"y":0.99},{"s":"0.5","x":196,"y":0.96},{"s":"0.5","x":197,"y":1.07},{"s":"0.5","x":198,"y":0.85},{"s":"0.5","x":199,"y":0.99}
]},
"mark":{"type":"line","strokeWidth":3,"strokeJoin":"round","clip":true},
"encoding":{
"x":{"field":"x","type":"quantitative","scale":{"domain":[-9.95,208.95],"nice":false,"zero":false},
"axis":{"values":[0,50,100,150,200],"title":"Video GOP Count","titleFontSize":27.8,"titleFontWeight":"normal","titleColor":"black","titlePadding":2,"labelFontSize":27.8,"labelColor":"black","labelPadding":4,"tickColor":"black","tickSize":5,"tickWidth":1.1,"domain":false,"grid":true,"gridColor":"#c8c8c8","gridWidth":1.1,"labelFlush":false}},
"y":{"field":"y","type":"quantitative","scale":{"domain":[0.39,5.72],"nice":false,"zero":false},
"axis":{"values":[2,4],"title":"GOP Size (Mb)","titleFontSize":27.8,"titleFontWeight":"normal","titleColor":"black","titlePadding":6,"labelFontSize":27.8,"labelColor":"black","labelPadding":4,"tickColor":"black","tickSize":5,"tickWidth":1.1,"domain":false,"grid":true,"gridColor":"#c8c8c8","gridWidth":1.1}},
"color":{"field":"s","type":"nominal","sort":["0.5","0.85","1.2","1.85"],
"scale":{"domain":["0.5","0.85","1.2","1.85"],"range":["#008000","#000000","#ff0000","#0000ff"]},
"legend":{"orient":"none","legendX":0,"legendY":-59,"direction":"horizontal","columns":4,"columnPadding":43,"symbolType":"M-3,0H3","symbolSize":625,"symbolStrokeWidth":3,"symbolOffset":23,"labelFontSize":27.8,"labelColor":"black","labelOffset":30,"padding":10,"strokeColor":"#d4d4d4","cornerRadius":4,"fillColor":"white","title":null}}
}
}
